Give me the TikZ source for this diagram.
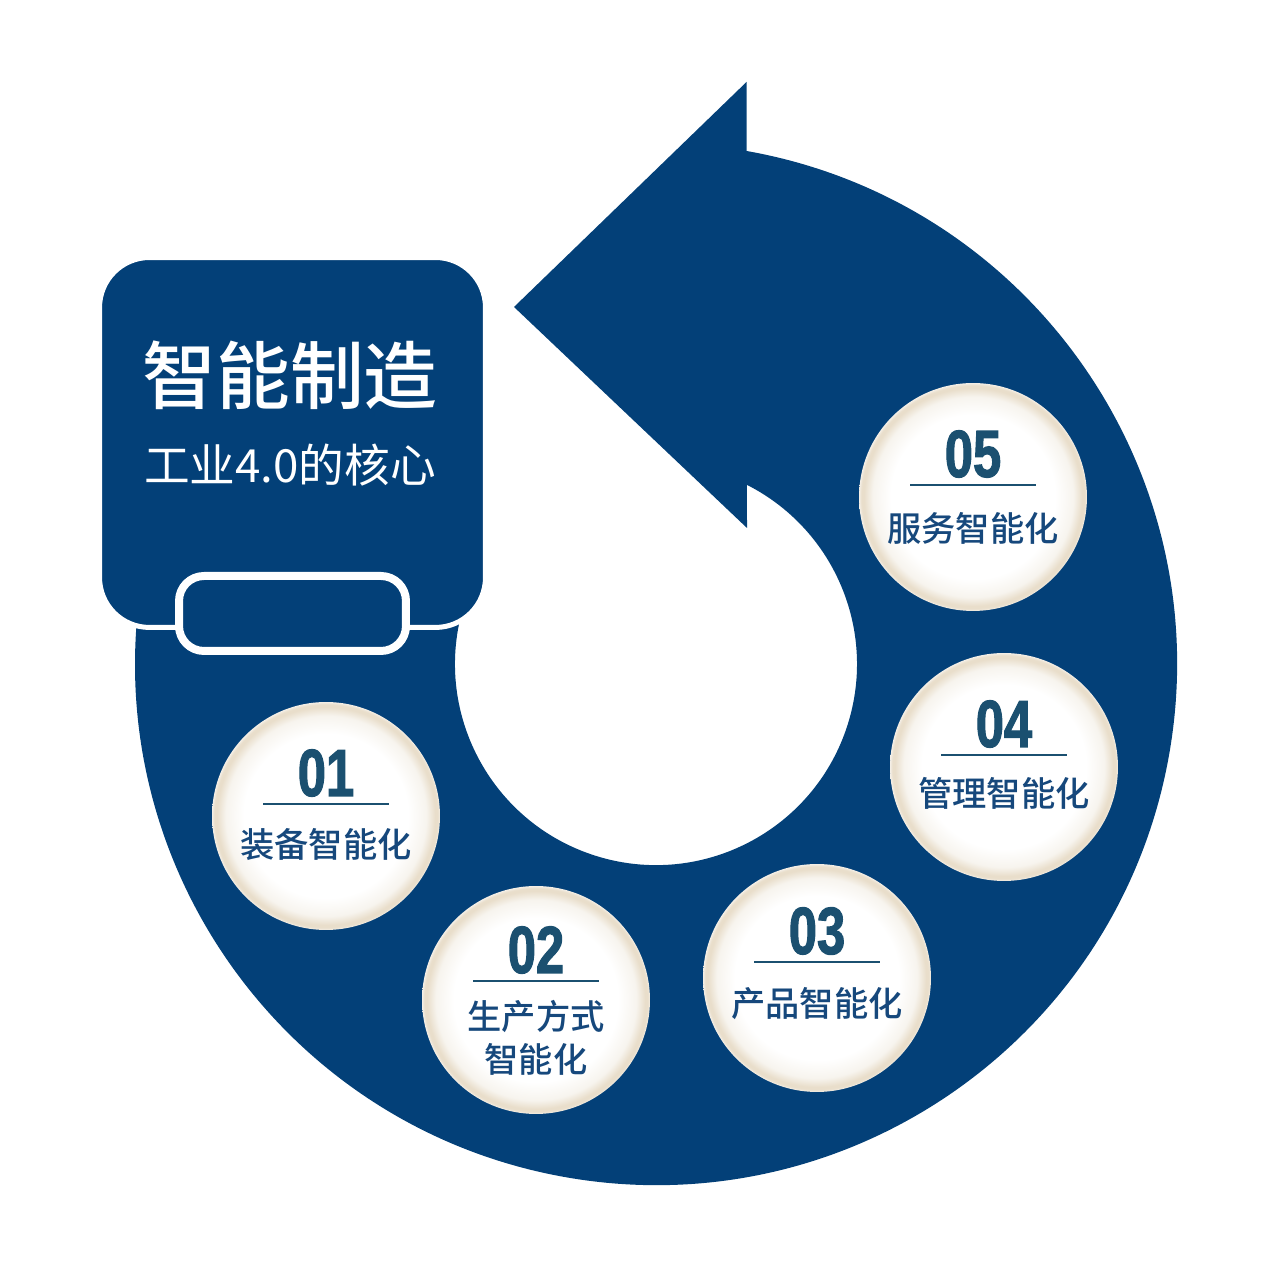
\documentclass[tikz,border=0pt]{standalone}
\usepackage{fontspec}
\setmainfont{Noto Sans CJK SC}
\newfontfamily\medfont{Noto Sans CJK SC Medium}
\newfontfamily\numfont[FakeStretch=0.76, FakeBold=1.6]{Liberation Sans Bold}

\definecolor{ringblue}{RGB}{3,64,120}
\definecolor{numblue}{RGB}{27,80,112}
\definecolor{labblue}{RGB}{22,72,124}
\definecolor{discmid}{RGB}{247,244,238}
\definecolor{discedge}{RGB}{233,222,203}
\definecolor{discrim}{RGB}{244,239,231}
\pgfdeclareradialshading{discshade}{\pgfpoint{0bp}{0bp}}{color(0bp)=(white); color(18bp)=(white); color(22bp)=(discmid); color(23.9bp)=(discedge); color(24.5bp)=(discedge); color(25bp)=(discrim); color(50bp)=(discrim)}

\tikzset{
  titlebox/.style={draw=white, line width=0.1cm, fill=ringblue, rounded corners=1cm, minimum width=7.72cm, minimum height=7.4cm},
  slot/.style={draw=white, line width=0.16cm, fill=ringblue, rounded corners=0.5cm, minimum width=4.54cm, minimum height=1.5cm},
  titletext/.style={text=white, inner sep=0pt, font=\medfont\fontsize{42}{48}\selectfont},
  subtext/.style={text=white, inner sep=0pt, font=\fontsize{26}{30}\selectfont},
  disc/.style={circle, minimum size=4.56cm, inner sep=0pt, shading=discshade},
  num/.style={text=numblue, inner sep=0pt, font=\numfont\fontsize{38}{40}\selectfont},
  lab/.style={text=labblue, inner sep=0pt, align=center, font=\medfont\fontsize{19.5}{24.5}\selectfont},
  rulerline/.style={numblue, line width=1.1pt}
}

\begin{document}
\begin{tikzpicture}[x=0.02cm, y=0.02cm]
\useasboundingbox (0,0) rectangle (1280,1266);

% ring and arrow head
\fill[ringblue] (746.5,1115) arc[start angle=80, end angle=-187.1, radius=521]
  -- (465.5,666) arc[start angle=-198.6, end angle=63.1, radius=201]
  -- (747,738) -- (514,959) -- (746.5,1184) -- cycle;

% title box
\node[titlebox] (core) at (292.5,823.5) {};
\node[slot] (slot) at (292.5,652.5) {};
\node[titletext] (title) at (290,891) {智能制造};
\node[subtext] (subtitle) at (290,801) {工业4.0的核心};

% steps
\foreach \x/\y/\n/\txt/\d/\e in {
  326/450/1/装备智能化/0/-29,
  536/266/2/{生产方式\\智能化}/7/-38,
  817/288/3/产品智能化/4/-26,
  1004/499/4/管理智能化/0/-26,
  973/769/5/服务智能化/0/-31}
{
  \node[disc] (c\n) at (\x,\y) {};
  \node[num] (n\n) at (\x,\y+43+\d) {0\n};
  \draw[rulerline] (\x-63,\y+12+\d) -- (\x+63,\y+12+\d);
  \node[lab] (l\n) at (\x,\y+\e) {\txt};
}
\end{tikzpicture}
\end{document}
